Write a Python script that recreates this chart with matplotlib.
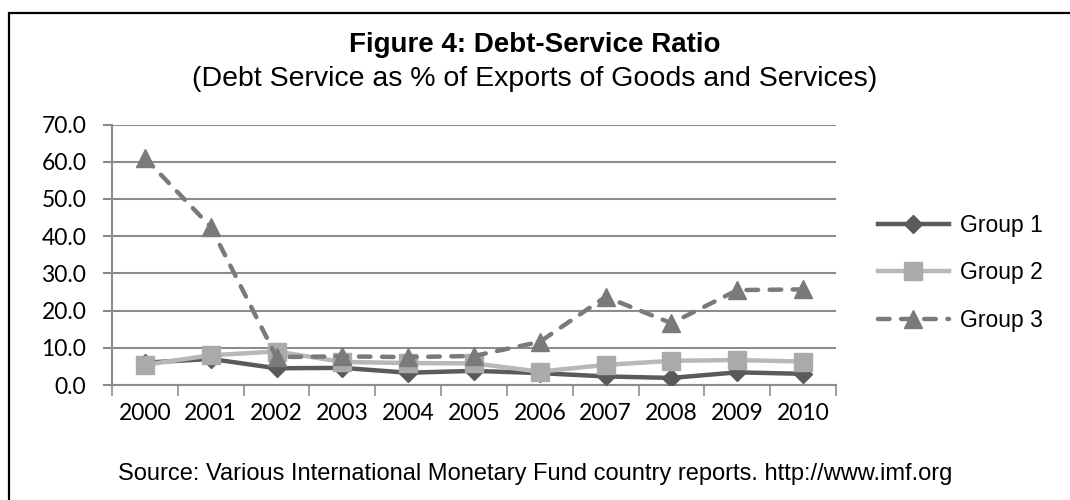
import matplotlib.pyplot as plt
from matplotlib.patches import Rectangle
import numpy as np

years = ['2000', '2001', '2002', '2003', '2004', '2005', '2006', '2007', '2008', '2009', '2010']
group1 = [6.0, 7.0, 4.5, 4.6, 3.3, 3.8, 3.2, 2.3, 1.9, 3.4, 3.0]
group2 = [5.4, 8.0, 9.0, 6.2, 5.9, 5.8, 3.6, 5.4, 6.5, 6.7, 6.3]
group3 = [61.0, 42.5, 7.5, 7.7, 7.5, 7.8, 11.6, 23.7, 16.6, 25.5, 25.7]

GRID = '#8c8c8c'

fig = plt.figure(figsize=(10.7, 5.0), dpi=100)

# outer frame, open on the right and bottom like the exported figure
fig.patches.append(Rectangle((9 / 1070, -0.1), 1.2, 1 - 13 / 500 + 0.1,
                             transform=fig.transFigure, fill=False,
                             edgecolor='#000000', linewidth=1.6))

ax = fig.add_axes([112 / 1070, 1 - 385 / 500, (836 - 112) / 1070, (385 - 124.5) / 500])

x = np.arange(len(years))

ax.plot(x, group1, color='#5a5a5a', linewidth=3.2, marker='D', markersize=9,
        markerfacecolor='#5a5a5a', markeredgecolor='#5a5a5a', label='Group 1', zorder=3)
ax.plot(x, group2, color='#b8b8b8', linewidth=3.2, marker='s', markersize=13,
        markerfacecolor='#aaaaaa', markeredgecolor='#aaaaaa', label='Group 2', zorder=4)
ax.plot(x, group3, color='#7a7a7a', linewidth=3.2, linestyle=(0, (2.6, 2.6)), marker='^',
        markersize=13, markerfacecolor='#7a7a7a', markeredgecolor='#7a7a7a',
        label='Group 3', zorder=5, dash_capstyle='round')

ax.set_xlim(-0.5, len(years) - 0.5)
ax.set_ylim(0, 70)
ax.set_yticks(np.arange(0, 71, 10))
ax.set_yticklabels(['%.1f' % v for v in np.arange(0, 71, 10)], fontsize=16.5, family='Lato')
ax.yaxis.grid(True, color=GRID, linewidth=1.5)
ax.set_axisbelow(True)

# category boundaries carry the tick marks, labels sit at the centres
ax.set_xticks(np.arange(-0.5, len(years), 1))
ax.set_xticklabels([])
ax.set_xticks(x, minor=True)
ax.set_xticklabels(years, minor=True, fontsize=16.5, family='Lato')
ax.tick_params(axis='x', which='major', length=8, width=1.2, color=GRID, direction='out')
ax.tick_params(axis='x', which='minor', length=0, pad=13)
ax.tick_params(axis='y', length=6.5, width=1.5, color=GRID, pad=12)

for side in ['top', 'right']:
    ax.spines[side].set_visible(False)
for side in ['left', 'bottom']:
    ax.spines[side].set_color(GRID)
    ax.spines[side].set_linewidth(1.5)

leg = fig.legend(loc='center left', bbox_to_anchor=(857 / 1070, 1 - 273 / 500),
                 frameon=False, prop={'family': 'Liberation Sans', 'size': 16.5},
                 handlelength=3.1, labelspacing=1.05, handletextpad=0.5)

fig.text(0.5, 1 - 45 / 500, 'Figure 4: Debt-Service Ratio', ha='center', va='center',
         fontsize=20, fontweight='bold', family='Liberation Sans')
fig.text(0.5, 1 - 79 / 500, '(Debt Service as % of Exports of Goods and Services)',
         ha='center', va='center', fontsize=20.5, family='Liberation Sans')
fig.text(0.5, 1 - 474 / 500,
         'Source: Various International Monetary Fund country reports. http://www.imf.org',
         ha='center', va='center', fontsize=17, family='Liberation Sans')

fig.savefig('out.png', dpi=100)
